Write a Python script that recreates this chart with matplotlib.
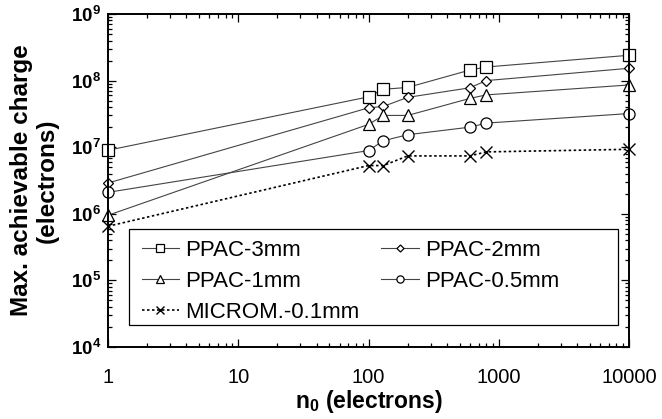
import numpy as np
import matplotlib
matplotlib.use("Agg")
import matplotlib.pyplot as plt
from matplotlib.patches import Rectangle
from matplotlib.ticker import LogLocator, NullFormatter, FixedLocator

plt.rcParams['font.family'] = ['Liberation Sans', 'DejaVu Sans']
plt.rcParams['mathtext.fontset'] = 'custom'
plt.rcParams['mathtext.rm'] = 'Liberation Sans'
plt.rcParams['mathtext.bf'] = 'Liberation Sans:bold'

# electrons in the primary charge
n0 = [1, 100, 130, 200, 600, 800, 10000]

# max achievable charge per detector
ppac_3mm = [9.0e6, 5.7e7, 7.4e7, 7.9e7, 1.44e8, 1.6e8, 2.4e8]
ppac_2mm = [2.9e6, 3.9e7, 4.1e7, 5.6e7, 7.8e7, 1.0e8, 1.53e8]
ppac_1mm = [9.5e5, 2.2e7, 3.0e7, 3.0e7, 5.4e7, 6.1e7, 8.6e7]
ppac_05mm = [2.1e6, 8.9e6, 1.25e7, 1.54e7, 2.0e7, 2.3e7, 3.2e7]
microm_01mm = [6.5e5, 5.3e6, 5.3e6, 7.4e6, 7.4e6, 8.5e6, 9.3e6]

fig = plt.figure(figsize=(6.62, 4.19), dpi=100)
ax = fig.add_axes([108 / 662, 72 / 419, 521 / 662, 333 / 419])

mk = dict(markerfacecolor='white', markeredgecolor='black', markeredgewidth=0.9,
          color='#444444', linewidth=0.8, clip_on=False)
h3, = ax.plot(n0, ppac_3mm, marker='s', markersize=8, label='PPAC-3mm', **mk)
h2, = ax.plot(n0, ppac_2mm, marker='D', markersize=5.5, label='PPAC-2mm', **mk)
h1, = ax.plot(n0, ppac_1mm, marker='^', markersize=8, label='PPAC-1mm', **mk)
h05, = ax.plot(n0, ppac_05mm, marker='o', markersize=8, label='PPAC-0.5mm', **mk)
hm, = ax.plot(n0, microm_01mm, marker='x', markersize=8, linestyle=(0, (1.5, 1.5)),
              label='MICROM.-0.1mm', markeredgecolor='black', markeredgewidth=1.0,
              color='black', linewidth=1.2, clip_on=False)

ax.set_xscale('log')
ax.set_yscale('log')
ax.set_xlim(1, 10000)
ax.set_ylim(1e4, 1e9)

ax.xaxis.set_major_locator(FixedLocator([1, 10, 100, 1000, 10000]))
ax.set_xticklabels(['1', '10', '100', '1000', '10000'])
ax.xaxis.set_minor_locator(LogLocator(base=10, subs=np.arange(2, 10)))
ax.xaxis.set_minor_formatter(NullFormatter())
ax.yaxis.set_major_locator(FixedLocator([1e4, 1e5, 1e6, 1e7, 1e8, 1e9]))
ax.set_yticklabels([r'$\mathbf{10^{%d}}$' % k for k in range(4, 10)])
ax.yaxis.set_minor_locator(LogLocator(base=10, subs=np.arange(2, 10)))
ax.yaxis.set_minor_formatter(NullFormatter())

ax.tick_params(which='both', direction='in', top=True, right=True, width=0.9)
ax.tick_params(which='major', length=6)
ax.tick_params(axis='x', which='major', pad=15, labelsize=14.5)
ax.tick_params(axis='y', which='major', pad=5, labelsize=13.5)
ax.tick_params(which='minor', length=3)
for s in ax.spines.values():
    s.set_linewidth(1.4)

ax.set_xlabel(r'n$_\mathbf{0}$ (electrons)', fontsize=16.5, fontweight='bold', labelpad=1)
ax.set_ylabel('Max. achievable charge\n(electrons)', fontsize=17.5,
              fontweight='bold', labelpad=9, linespacing=1.15)

# legend frame drawn on its own, entries placed inside it
ax.add_patch(Rectangle((0.040, 0.066), 0.939, 0.288, transform=ax.transAxes,
                       facecolor='white', edgecolor='black', linewidth=0.9, zorder=4))
leg = ax.legend([h3, h1, hm, h2, h05],
                ['PPAC-3mm', 'PPAC-1mm', 'MICROM.-0.1mm', 'PPAC-2mm', 'PPAC-0.5mm'],
                ncol=2, loc='upper left', bbox_to_anchor=(0.043, 0.354),
                fontsize=16, handlelength=1.7, handletextpad=0.25, markerscale=0.65,
                columnspacing=1.0, borderpad=0.5, borderaxespad=0, labelspacing=0.45,
                frameon=False)
leg.set_zorder(5)

fig.savefig('out.png', dpi=100)
